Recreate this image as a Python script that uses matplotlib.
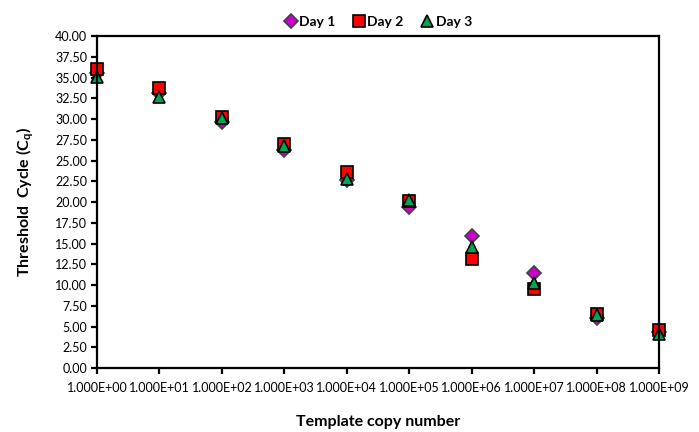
import matplotlib.pyplot as plt
import numpy as np
from matplotlib.ticker import FixedLocator, FuncFormatter

plt.rcParams['font.family'] = ['Lato', 'DejaVu Sans']

copies = [1e0, 1e1, 1e2, 1e3, 1e4, 1e5, 1e6, 1e7, 1e8, 1e9]
day1 = [35.5, 33.2, 29.6, 26.3, 22.7, 19.4, 15.9, 11.5, 6.0, 4.4]
day2 = [36.0, 33.7, 30.2, 27.0, 23.6, 20.1, 13.1, 9.5, 6.5, 4.6]
day3 = [35.1, 32.7, 30.1, 26.8, 22.8, 20.2, 14.6, 10.2, 6.4, 4.1]

fig = plt.figure(figsize=(6.99, 4.32), dpi=100)
ax = fig.add_axes([0.1388, 0.148, 0.804, 0.7685])

ax.plot(copies, day1, linestyle='none', marker='D', markersize=7, clip_on=False,
        markerfacecolor='#cc00cc', markeredgecolor='#404040', markeredgewidth=1.2, label='Day 1')
ax.plot(copies, day2, linestyle='none', marker='s', markersize=8.5, clip_on=False,
        markerfacecolor='#ff0000', markeredgecolor='black', markeredgewidth=1.2, label='Day 2')
ax.plot(copies, day3, linestyle='none', marker='^', markersize=8.5, clip_on=False,
        markerfacecolor='#00a651', markeredgecolor='black', markeredgewidth=1.2, label='Day 3')

ax.set_xscale('log')
ax.set_xlim(1, 1e9)
ax.set_ylim(0, 40)
ax.xaxis.set_major_locator(FixedLocator(copies))
ax.xaxis.set_minor_locator(FixedLocator([]))
ax.xaxis.set_major_formatter(FuncFormatter(lambda v, p: f"{v:.3E}"))
ax.set_yticks(np.arange(0, 40.01, 2.5))
ax.yaxis.set_major_formatter(FuncFormatter(lambda v, p: f"{v:.2f}"))

for s in ax.spines.values():
    s.set_linewidth(1.6)
ax.tick_params(direction='out', length=4, width=1.6, labelsize=9, pad=3)
ax.tick_params(axis='x', pad=6)
ax.tick_params(top=False, right=False)

ax.set_xlabel('Template copy number', fontsize=11.5, fontweight='bold', labelpad=15)
ax.set_ylabel('Threshold  Cycle (C$_\\mathregular{q}$)', fontsize=11.5, fontweight='bold', labelpad=14)

leg = ax.legend(loc='lower center', bbox_to_anchor=(0.5, 1.0), ncol=3, frameon=False,
                handletextpad=0.1, columnspacing=1.2, handlelength=1.0,
                prop={'weight': 'bold', 'size': 10}, borderaxespad=0.2)

fig.savefig('out.png', dpi=100)
